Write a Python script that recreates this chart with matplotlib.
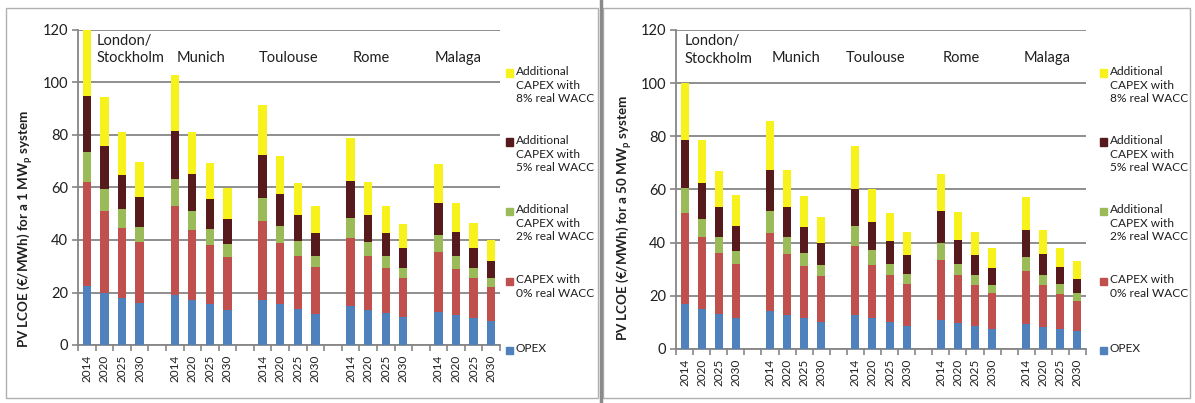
import numpy as np
import matplotlib.pyplot as plt
from matplotlib.patches import Rectangle
from matplotlib.lines import Line2D

plt.rcParams['font.family'] = ['Lato', 'DejaVu Sans']

cities = ['London/\nStockholm', 'Munich', 'Toulouse', 'Rome', 'Malaga']
years = ['2014', '2020', '2025', '2030']

# LCOE components in EUR/MWh, 4 years per city (London, Munich, Toulouse, Rome, Malaga)
# 1 MWp system
opex_1 = [22.5, 20.0, 18.0, 15.9, 19.2, 17.3, 15.6, 13.3, 17.0, 15.6, 13.7, 11.8,
          14.7, 13.3, 12.1, 10.5, 12.6, 11.6, 10.2, 9.1]
capex0_1 = [39.7, 31.0, 26.4, 23.3, 33.9, 26.5, 22.5, 20.1, 30.4, 23.3, 20.3, 18.0,
            26.2, 20.5, 17.4, 15.0, 22.8, 17.5, 15.3, 13.1]
add2_1 = [11.5, 8.6, 7.3, 5.6, 10.0, 7.2, 6.2, 5.1, 8.5, 6.3, 5.6, 4.2,
          7.5, 5.3, 4.3, 4.0, 6.5, 4.9, 4.0, 3.3]
add5_1 = [21.3, 16.2, 13.2, 11.6, 18.3, 14.0, 11.3, 9.6, 16.6, 12.2, 9.9, 8.8,
          14.1, 10.4, 9.0, 7.6, 12.3, 9.0, 7.6, 6.4]
add8_1 = [25.0, 18.8, 16.1, 13.4, 21.6, 16.1, 13.7, 11.7, 19.1, 14.7, 12.2, 10.3,
          16.5, 12.6, 10.3, 8.9, 14.8, 11.2, 9.2, 8.1]

# 50 MWp system
opex_50 = [16.9, 15.0, 13.3, 11.5, 14.4, 12.7, 11.6, 10.0, 12.7, 11.6, 10.1, 8.8,
           10.8, 9.8, 8.8, 7.6, 9.5, 8.4, 7.5, 6.6]
capex0_50 = [34.2, 27.0, 23.0, 20.6, 29.3, 23.1, 19.7, 17.6, 26.0, 20.1, 17.8, 15.6,
             22.6, 17.9, 15.1, 13.4, 19.7, 15.5, 13.3, 11.6]
add2_50 = [9.5, 7.0, 5.9, 4.9, 8.2, 6.2, 5.0, 4.0, 7.5, 5.6, 4.2, 3.7,
           6.4, 4.4, 3.9, 3.2, 5.4, 3.9, 3.5, 2.8]
add5_50 = [18.2, 13.5, 11.4, 9.2, 15.5, 11.6, 9.5, 8.2, 13.8, 10.4, 8.6, 7.1,
           12.1, 9.0, 7.4, 6.1, 10.2, 7.8, 6.4, 5.4]
add8_50 = [21.4, 16.3, 13.4, 11.8, 18.4, 13.8, 11.8, 9.9, 16.4, 12.3, 10.4, 8.9,
           14.1, 10.5, 8.9, 7.8, 12.4, 9.2, 7.4, 6.7]

labels = ['OPEX', 'CAPEX with\n0% real WACC', 'Additional\nCAPEX with\n2% real WACC',
          'Additional\nCAPEX with\n5% real WACC', 'Additional\nCAPEX with\n8% real WACC']
colors = ['#4F81BD', '#C0504D', '#9BBB59', '#561A1C', '#F7F21C']

W, H = 1195, 403
grey = '#868686'
txt = '#1f1f1f'

# bar slots: 4 years per city, one empty slot between cities
pos = np.array([g * 5 + k for g in range(len(cities)) for k in range(len(years))])

fig = plt.figure(figsize=(W / 100, H / 100), dpi=100)


def px(x0, y0, x1, y1):
    return [x0 / W, 1 - y1 / H, (x1 - x0) / W, (y1 - y0) / H]


def draw_panel(rect, parts, ylabel, label_y, legend_x, cx):
    ax = fig.add_axes(px(*rect))
    bottom = np.zeros(len(pos))
    for vals, c in zip(parts, colors):
        ax.bar(pos, vals, width=0.47, bottom=bottom, color=c, zorder=3)
        bottom += np.array(vals)
    ax.set_xlim(-0.5, 23.5)
    ax.set_ylim(0, 120)
    ax.set_yticks(range(0, 121, 20))
    ax.yaxis.grid(True, color=grey, lw=1.3, zorder=0)
    ax.set_xticks(pos)
    ax.set_xticklabels(years * len(cities), rotation=90, fontsize=8.5, color=txt)
    ax.set_xticks(np.arange(-0.5, 24, 1), minor=True)
    ax.tick_params(axis='x', which='major', length=0, pad=7)
    ax.tick_params(axis='x', which='minor', length=4, color=grey, width=1.2)
    ax.tick_params(axis='y', length=4, color=grey, width=1.2, labelsize=10.5,
                   labelcolor=txt, pad=3)
    for s in ['top', 'right']:
        ax.spines[s].set_visible(False)
    for s in ['left', 'bottom']:
        ax.spines[s].set_color(grey)
        ax.spines[s].set_linewidth(1.3)
    ax.set_ylabel(ylabel, fontsize=9.6, fontweight='bold', color=txt)
    ax.yaxis.set_label_coords(-0.103, label_y)
    ax.text(cx[0], 112.5, cities[0], ha='left', va='center', fontsize=10.5,
            color=txt, linespacing=1.3)
    for x, name in zip(cx[1:], cities[1:]):
        ax.text(x, 109.5, name, ha='center', va='center', fontsize=10.5, color=txt)
    # legend, top entry first
    for i, yy in enumerate([73, 142, 211, 281, 350]):
        k = len(labels) - 1 - i
        fig.add_artist(Rectangle(((legend_x - 10) / W, 1 - (yy + 3.5) / H), 7 / W, 7 / H,
                                 transform=fig.transFigure, color=colors[k]))
        fig.text(legend_x / W, 1 - (yy - 7) / H, labels[k], ha='left', va='top',
                 fontsize=8.6, color=txt, linespacing=1.3)
    return ax


draw_panel((78, 30, 500, 345), [opex_1, capex0_1, add2_1, add5_1, add8_1],
           'PV LCOE (€/MWh) for a 1 MW$_\\mathregular{p}$ system', 0.37, 516,
           [0.55, 6.5, 11.5, 16.2, 21.1])
draw_panel((676, 30, 1086, 349), [opex_50, capex0_50, add2_50, add5_50, add8_50],
           'PV LCOE (€/MWh) for a 50 MW$_\\mathregular{p}$ system', 0.41, 1110,
           [0.0, 6.55, 11.2, 16.2, 21.25])

# panel frames and separator
for r in [(6, 8, 598, 398), (603, 8, 1190, 398)]:
    fig.add_artist(Rectangle((r[0] / W, 1 - r[3] / H), (r[2] - r[0]) / W, (r[3] - r[1]) / H,
                             transform=fig.transFigure, fill=False, ec='#b0b0b0', lw=1))
fig.add_artist(Line2D([601 / W, 601 / W], [0, 1], transform=fig.transFigure,
                      color='#8a8a8a', lw=2.5))

fig.savefig('out.png', dpi=100, facecolor='white')
